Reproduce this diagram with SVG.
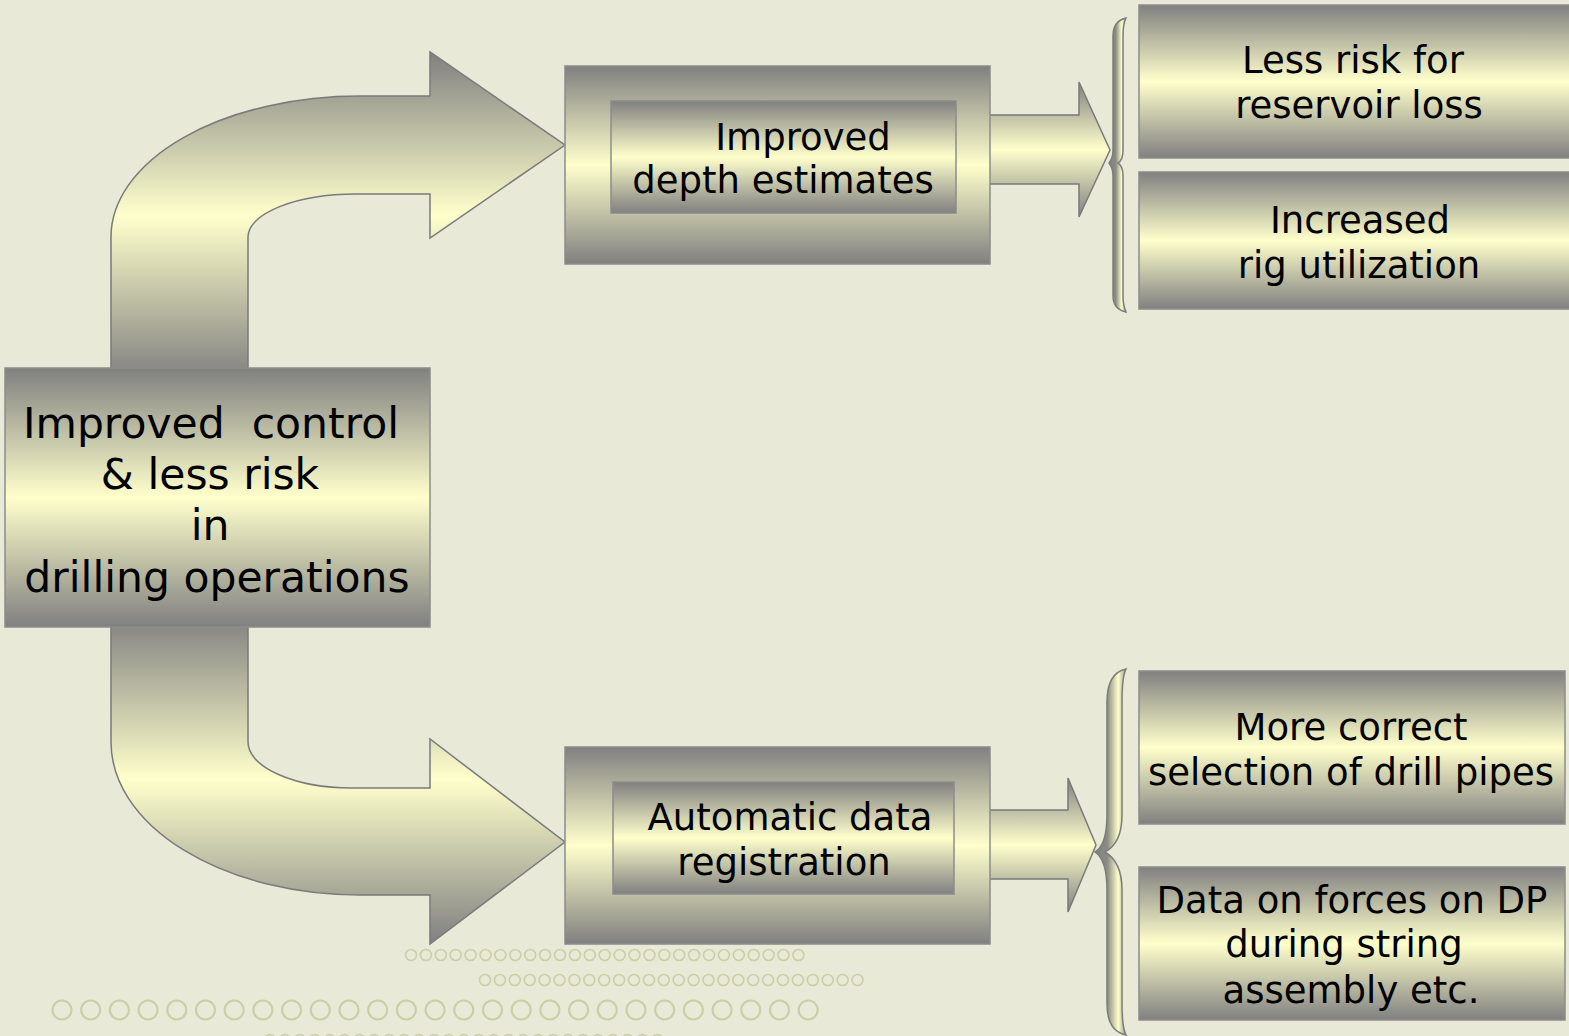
<svg xmlns="http://www.w3.org/2000/svg" width="1569" height="1036" viewBox="0 0 1569 1036">
<style>
.t{font-family:"DejaVu Sans","Verdana",sans-serif;fill:#000;text-anchor:middle}
.big{font-size:42.5px}
.mid{font-size:37px}
.box{fill:url(#gv);stroke:#8c8c8c;stroke-width:1.5}
.arr{fill:url(#gv);stroke:#7a7a7a;stroke-width:1.5}
.brace{fill:url(#gh);stroke:#7c7c7c;stroke-width:1.5}
.dot{fill:none;stroke:#cbcfa6;stroke-width:1.6}
.dotb{fill:none;stroke:#cbcfa6;stroke-width:2.2}
</style>
<defs>
<linearGradient id="gv" x1="0" y1="0" x2="0" y2="1">
<stop offset="0" stop-color="#808080"/>
<stop offset="0.5" stop-color="#ffffcc"/>
<stop offset="1" stop-color="#808080"/>
</linearGradient>
<linearGradient id="gh" x1="0" y1="0" x2="1" y2="0">
<stop offset="0" stop-color="#808080"/>
<stop offset="0.4" stop-color="#8c8c84"/>
<stop offset="0.75" stop-color="#ffffcc"/>
<stop offset="1" stop-color="#9a9a8c"/>
</linearGradient>
</defs>
<rect width="1569" height="1036" fill="#e8e9d7"/>

<g id="connectors">
<path class="arr" d="M111,380 L111,237 A249,141 0 0 1 360,96 L430,96 L430,52 L565,145 L430,238 L430,194 L356,194 A108,43 0 0 0 248,237 L248,380 Z"/>
<path class="arr" d="M111,615 L111,742 A249,153 0 0 0 360,895 L430,895 L430,944 L565,842 L430,739 L430,788 L352,788 A104,46 0 0 1 248,742 L248,615 Z"/>
<path class="arr" d="M985,115 L1079,115 L1079,82 L1110,150 L1079,217 L1079,184 L985,184 Z"/>
<path class="arr" d="M985,810 L1068,810 L1068,778 L1096,845 L1068,912 L1068,879 L985,879 Z"/>
<path class="brace" d="M1126,18 Q1113,21 1113,36 L1113,150 Q1113,158 1109,163 Q1113,168 1113,176 L1113,296 Q1113,309 1126,312 Q1123,305 1123,296 L1123,176 Q1123,166 1118,163 Q1123,160 1123,150 L1123,36 Q1123,24 1126,18 Z"/>
<path class="brace" d="M1126,669 Q1107,673 1107,702 L1107,815 Q1107,845 1095,852 Q1107,860 1107,890 L1107,1004 Q1107,1031 1126,1035 Q1122,1027 1122,1004 L1122,890 Q1122,862 1105,852 Q1122,843 1122,815 L1122,702 Q1122,677 1126,669 Z"/>
</g>

<g id="main">
<rect class="box" x="5" y="368" width="425" height="259"/>
<text class="t big" x="211" y="438">Improved&#160; control</text>
<text class="t big" x="210" y="489">&amp; less risk</text>
<text class="t big" x="210" y="540">in</text>
<text class="t big" x="217" y="592">drilling operations</text>
</g>

<g id="depth">
<rect class="box" x="565" y="66" width="425" height="198"/>
<rect class="box" x="611" y="101" width="345" height="112"/>
<text class="t mid" x="803" y="150">Improved</text>
<text class="t mid" x="783" y="193">depth estimates</text>
</g>

<g id="auto">
<rect class="box" x="565" y="747" width="425" height="197"/>
<rect class="box" x="613" y="782" width="341" height="112"/>
<text class="t mid" x="790" y="830">Automatic data</text>
<text class="t mid" x="784" y="875">registration</text>
</g>

<g id="r1">
<rect class="box" x="1139" y="5" width="440" height="153"/>
<text class="t mid" x="1353" y="73">Less risk for</text>
<text class="t mid" x="1359" y="118">reservoir loss</text>
</g>
<g id="r2">
<rect class="box" x="1139" y="172" width="440" height="137"/>
<text class="t mid" x="1360" y="233">Increased</text>
<text class="t mid" x="1359" y="278">rig utilization</text>
</g>
<g id="r3">
<rect class="box" x="1139" y="671" width="426" height="153"/>
<text class="t mid" x="1351" y="740">More correct</text>
<text class="t mid" x="1351" y="785">selection of drill pipes</text>
</g>
<g id="r4">
<rect class="box" x="1139" y="867" width="426" height="153"/>
<text class="t mid" x="1352" y="913">Data on forces on DP</text>
<text class="t mid" x="1344" y="957">during string</text>
<text class="t mid" x="1351" y="1003">assembly etc.</text>
</g>

<g id="dots">
<g class="dot">
<circle cx="411" cy="955" r="5.5"/><circle cx="425.9" cy="955" r="5.5"/><circle cx="440.8" cy="955" r="5.5"/><circle cx="455.7" cy="955" r="5.5"/><circle cx="470.6" cy="955" r="5.5"/><circle cx="485.5" cy="955" r="5.5"/><circle cx="500.4" cy="955" r="5.5"/><circle cx="515.3" cy="955" r="5.5"/><circle cx="530.2" cy="955" r="5.5"/><circle cx="545.1" cy="955" r="5.5"/><circle cx="560" cy="955" r="5.5"/><circle cx="574.9" cy="955" r="5.5"/><circle cx="589.8" cy="955" r="5.5"/><circle cx="604.7" cy="955" r="5.5"/><circle cx="619.6" cy="955" r="5.5"/><circle cx="634.5" cy="955" r="5.5"/><circle cx="649.4" cy="955" r="5.5"/><circle cx="664.3" cy="955" r="5.5"/><circle cx="679.2" cy="955" r="5.5"/><circle cx="694.1" cy="955" r="5.5"/><circle cx="709" cy="955" r="5.5"/><circle cx="723.9" cy="955" r="5.5"/><circle cx="738.8" cy="955" r="5.5"/><circle cx="753.7" cy="955" r="5.5"/><circle cx="768.6" cy="955" r="5.5"/><circle cx="783.5" cy="955" r="5.5"/><circle cx="798.4" cy="955" r="5.5"/>
<circle cx="485" cy="980" r="5.5"/><circle cx="499.9" cy="980" r="5.5"/><circle cx="514.8" cy="980" r="5.5"/><circle cx="529.7" cy="980" r="5.5"/><circle cx="544.6" cy="980" r="5.5"/><circle cx="559.5" cy="980" r="5.5"/><circle cx="574.4" cy="980" r="5.5"/><circle cx="589.3" cy="980" r="5.5"/><circle cx="604.2" cy="980" r="5.5"/><circle cx="619.1" cy="980" r="5.5"/><circle cx="634" cy="980" r="5.5"/><circle cx="648.9" cy="980" r="5.5"/><circle cx="663.8" cy="980" r="5.5"/><circle cx="678.7" cy="980" r="5.5"/><circle cx="693.6" cy="980" r="5.5"/><circle cx="708.5" cy="980" r="5.5"/><circle cx="723.4" cy="980" r="5.5"/><circle cx="738.3" cy="980" r="5.5"/><circle cx="753.2" cy="980" r="5.5"/><circle cx="768.1" cy="980" r="5.5"/><circle cx="783" cy="980" r="5.5"/><circle cx="797.9" cy="980" r="5.5"/><circle cx="812.8" cy="980" r="5.5"/><circle cx="827.7" cy="980" r="5.5"/><circle cx="842.6" cy="980" r="5.5"/><circle cx="857.5" cy="980" r="5.5"/>
<circle cx="270" cy="1040" r="5.5"/><circle cx="284.9" cy="1040" r="5.5"/><circle cx="299.8" cy="1040" r="5.5"/><circle cx="314.7" cy="1040" r="5.5"/><circle cx="329.6" cy="1040" r="5.5"/><circle cx="344.5" cy="1040" r="5.5"/><circle cx="359.4" cy="1040" r="5.5"/><circle cx="374.3" cy="1040" r="5.5"/><circle cx="389.2" cy="1040" r="5.5"/><circle cx="404.1" cy="1040" r="5.5"/><circle cx="419" cy="1040" r="5.5"/><circle cx="433.9" cy="1040" r="5.5"/><circle cx="448.8" cy="1040" r="5.5"/><circle cx="463.7" cy="1040" r="5.5"/><circle cx="478.6" cy="1040" r="5.5"/><circle cx="493.5" cy="1040" r="5.5"/><circle cx="508.4" cy="1040" r="5.5"/><circle cx="523.3" cy="1040" r="5.5"/><circle cx="538.2" cy="1040" r="5.5"/><circle cx="553.1" cy="1040" r="5.5"/><circle cx="568" cy="1040" r="5.5"/><circle cx="582.9" cy="1040" r="5.5"/><circle cx="597.8" cy="1040" r="5.5"/><circle cx="612.7" cy="1040" r="5.5"/><circle cx="627.6" cy="1040" r="5.5"/><circle cx="642.5" cy="1040" r="5.5"/><circle cx="657.4" cy="1040" r="5.5"/>
</g>
<g class="dotb">
<circle cx="62" cy="1010" r="9.5"/><circle cx="90.7" cy="1010" r="9.5"/><circle cx="119.4" cy="1010" r="9.5"/><circle cx="148.1" cy="1010" r="9.5"/><circle cx="176.8" cy="1010" r="9.5"/><circle cx="205.5" cy="1010" r="9.5"/><circle cx="234.2" cy="1010" r="9.5"/><circle cx="262.9" cy="1010" r="9.5"/><circle cx="291.6" cy="1010" r="9.5"/><circle cx="320.3" cy="1010" r="9.5"/><circle cx="349" cy="1010" r="9.5"/><circle cx="377.7" cy="1010" r="9.5"/><circle cx="406.4" cy="1010" r="9.5"/><circle cx="435.1" cy="1010" r="9.5"/><circle cx="463.8" cy="1010" r="9.5"/><circle cx="492.5" cy="1010" r="9.5"/><circle cx="521.2" cy="1010" r="9.5"/><circle cx="549.9" cy="1010" r="9.5"/><circle cx="578.6" cy="1010" r="9.5"/><circle cx="607.3" cy="1010" r="9.5"/><circle cx="636" cy="1010" r="9.5"/><circle cx="664.7" cy="1010" r="9.5"/><circle cx="693.4" cy="1010" r="9.5"/><circle cx="722.1" cy="1010" r="9.5"/><circle cx="750.8" cy="1010" r="9.5"/><circle cx="779.5" cy="1010" r="9.5"/><circle cx="808.2" cy="1010" r="9.5"/>
</g>
</g>
</svg>
